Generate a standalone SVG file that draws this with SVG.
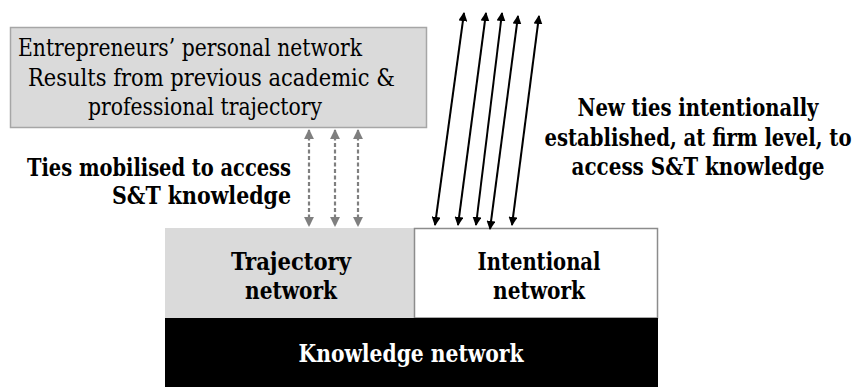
<svg xmlns="http://www.w3.org/2000/svg" width="861" height="387" viewBox="0 0 861 387">
<defs>
<style>
text{font-family:'DejaVu Serif Condensed','DejaVu Serif','Liberation Serif',serif;font-size:24px;fill:#000}
.bold{font-weight:bold}
.white{fill:#fff}
.solid{stroke:#000;stroke-width:2;fill:none;marker-start:url(#hb);marker-end:url(#hb)}
.dash{stroke:#7f7f7f;stroke-width:2.2;stroke-dasharray:4 2.5;fill:none;marker-start:url(#hg);marker-end:url(#hg)}
</style>
<marker id="hb" viewBox="0 0 10 10" refX="9" refY="5" markerWidth="4.5" markerHeight="4.5" orient="auto-start-reverse"><path d="M0,0 L10,5 L0,10 z" fill="#000"/></marker>
<marker id="hg" viewBox="0 0 10 10" refX="9" refY="5" markerWidth="4.5" markerHeight="4.5" orient="auto-start-reverse"><path d="M0,0 L10,5 L0,10 z" fill="#7f7f7f"/></marker>
</defs>
<rect width="861" height="387" fill="#fff"/>
<g id="personal-network">
<rect x="10.5" y="27.5" width="416" height="100" fill="#dadada" stroke="#a6a6a6" stroke-width="1.5"/>
<text x="18" y="56" textLength="344" lengthAdjust="spacingAndGlyphs">Entrepreneurs’ personal network</text>
<text x="28" y="86" textLength="367" lengthAdjust="spacingAndGlyphs">Results from previous academic &amp;</text>
<text x="88" y="115" textLength="234" lengthAdjust="spacingAndGlyphs">professional trajectory</text>
</g>
<g id="label-mobilised">
<text class="bold" x="27" y="176" textLength="264" lengthAdjust="spacingAndGlyphs">Ties mobilised to access</text>
<text class="bold" x="112" y="204" textLength="179" lengthAdjust="spacingAndGlyphs">S&amp;T knowledge</text>
</g>
<g id="label-new-ties">
<text class="bold" x="698" y="116" text-anchor="middle" textLength="241" lengthAdjust="spacingAndGlyphs">New ties intentionally</text>
<text class="bold" x="698" y="145.5" text-anchor="middle" font-size="23" textLength="307" lengthAdjust="spacingAndGlyphs">established, at firm level, to</text>
<text class="bold" x="698" y="175" text-anchor="middle" textLength="253" lengthAdjust="spacingAndGlyphs">access S&amp;T knowledge</text>
</g>
<g id="trajectory-network">
<rect x="165" y="228" width="249.5" height="90" fill="#dadada"/>
<text class="bold" x="291" y="270" text-anchor="middle" textLength="120" lengthAdjust="spacingAndGlyphs">Trajectory</text>
<text class="bold" x="291" y="299" text-anchor="middle" textLength="92" lengthAdjust="spacingAndGlyphs">network</text>
</g>
<g id="intentional-network">
<rect x="414.5" y="228.5" width="243" height="89.5" fill="#fff" stroke="#8c8c8c" stroke-width="1.5"/>
<text class="bold" x="539" y="270" text-anchor="middle" textLength="123" lengthAdjust="spacingAndGlyphs">Intentional</text>
<text class="bold" x="539" y="299" text-anchor="middle" textLength="92" lengthAdjust="spacingAndGlyphs">network</text>
</g>
<g id="knowledge-network">
<rect x="165" y="318" width="493" height="69" fill="#000"/>
<text class="bold white" x="411" y="362" text-anchor="middle" textLength="225" lengthAdjust="spacingAndGlyphs">Knowledge network</text>
</g>
<g id="connectors">
<line class="dash" x1="309" y1="130" x2="309" y2="226"/>
<line class="dash" x1="335" y1="130" x2="335" y2="226"/>
<line class="dash" x1="358" y1="130" x2="358" y2="226"/>
<line class="solid" x1="464" y1="13" x2="435" y2="225"/>
<line class="solid" x1="486" y1="13" x2="458" y2="225"/>
<line class="solid" x1="502" y1="13" x2="476" y2="225"/>
<line class="solid" x1="518" y1="16" x2="490" y2="229"/>
<line class="solid" x1="539" y1="16" x2="512" y2="225"/>
</g>
</svg>
